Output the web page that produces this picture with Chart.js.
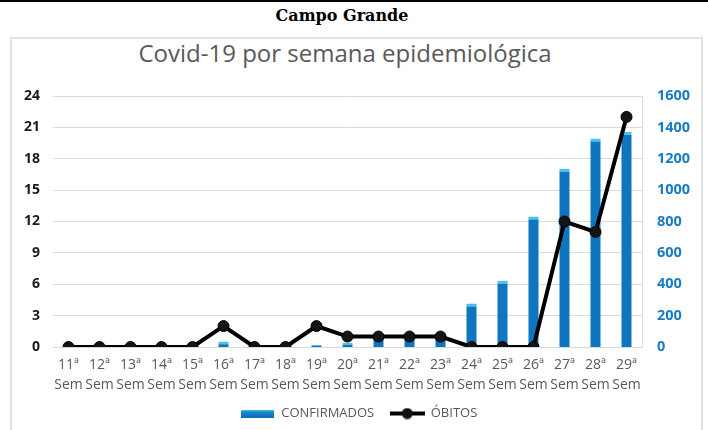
<!DOCTYPE html>
<html>
<head>
<meta charset="utf-8">
<script src="https://cdn.jsdelivr.net/npm/chart.js@4"></script>
<style>
  html, body { margin: 0; padding: 0; background: #fff; }
  body { width: 708px; height: 430px; position: relative; overflow: hidden; border-top: 2px solid #000; box-sizing: border-box; }
  .page-title { position: absolute; top: 4px; left: 0; width: 684px; text-align: center;
    font: bold 16px "DejaVu Serif", serif; color: #000; }
  .frame { position: absolute; left: 10px; top: 35px; width: 689px; height: 420px; border: 2px solid #e3e3e3; }
  .chart-title { position: absolute; top: 34px; left: 0; width: 690px; text-align: center;
    font: 24px "Open Sans", sans-serif; color: #595959; }
  #chart { position: absolute; left: 0; top: -2px; }
</style>
</head>
<body>
<div class="page-title">Campo Grande</div>
<div class="frame"></div>
<div class="chart-title">Covid-19 por semana epidemiológica</div>
<canvas id="chart" width="708" height="430"></canvas>
<script>
const semanas = ['11ª', '12ª', '13ª', '14ª', '15ª', '16ª', '17ª', '18ª', '19ª', '20ª',
  '21ª', '22ª', '23ª', '24ª', '25ª', '26ª', '27ª', '28ª', '29ª'];
const confirmados = [0, 0, 0, 0, 0, 35, 0, 0, 15, 25, 80, 90, 85, 277, 422, 832, 1137, 1329, 1371];
const obitos = [0, 0, 0, 0, 0, 2, 0, 0, 2, 1, 1, 1, 1, 0, 0, 0, 12, 11, 22];
const ticksObitos = [0, 3, 6, 9, 12, 15, 18, 21, 24];
const ticksConfirmados = [0, 200, 400, 600, 800, 1000, 1200, 1400, 1600];

const BLUE = '#0d76bf';
const CAP = '#45c3f0';

// small icons for the legend
function barIcon() {
  const c = document.createElement('canvas');
  c.width = 33; c.height = 8;
  const g = c.getContext('2d');
  const grad = g.createLinearGradient(0, 0, 0, 8);
  grad.addColorStop(0, '#4cc6f2');
  grad.addColorStop(0.35, '#1a86cc');
  grad.addColorStop(1, '#0b6fb5');
  g.fillStyle = grad;
  g.fillRect(0, 0, 33, 8);
  return c;
}

function lineIcon() {
  const c = document.createElement('canvas');
  c.width = 35; c.height = 12;
  const g = c.getContext('2d');
  g.strokeStyle = '#000';
  g.lineWidth = 4;
  g.beginPath(); g.moveTo(0, 6); g.lineTo(35, 6); g.stroke();
  g.fillStyle = '#111';
  g.beginPath(); g.arc(17.5, 6, 5.5, 0, Math.PI * 2); g.fill();
  return c;
}

const icons = [barIcon(), lineIcon()];

const ctx = document.getElementById('chart').getContext('2d');
const chart = new Chart(ctx, {
  data: {
    labels: semanas.map(s => [s, 'Sem']),
    datasets: [{
      type: 'bar',
      label: 'CONFIRMADOS',
      data: confirmados,
      yAxisID: 'y1',
      backgroundColor: BLUE,
      borderColor: CAP,
      borderWidth: { top: 3, left: 0, right: 0, bottom: 0 },
      borderSkipped: 'bottom',
      barPercentage: 0.42,
      categoryPercentage: 0.8,
      order: 2
    }, {
      type: 'line',
      label: 'ÓBITOS',
      data: obitos,
      yAxisID: 'y',
      borderColor: '#000',
      borderWidth: 4,
      pointRadius: 5.5,
      pointBackgroundColor: '#141414',
      pointBorderColor: '#000',
      pointBorderWidth: 1,
      tension: 0,
      order: 1
    }]
  },
  options: {
    responsive: false,
    animation: false,
    layout: { padding: { top: 96, left: 10, right: 0, bottom: 0 } },
    plugins: {
      title: { display: false },
      tooltip: { enabled: false },
      legend: {
        position: 'bottom',
        labels: {
          usePointStyle: true,
          pointStyleWidth: 34,
          padding: 16,
          color: '#595959',
          font: { family: 'Open Sans', size: 13 },
          generateLabels: chart => chart.data.datasets.map((ds, i) => ({
            text: ds.label,
            pointStyle: icons[i],
            fillStyle: 'transparent',
            strokeStyle: 'transparent',
            lineWidth: 0,
            hidden: false,
            datasetIndex: i,
            fontColor: '#595959'
          }))
        }
      }
    },
    scales: {
      x: {
        grid: { display: false },
        border: { display: true, color: '#d9d9d9' },
        ticks: {
          autoSkip: false,
          maxRotation: 0,
          padding: 0,
          color: '#595959',
          font: { family: 'Open Sans', size: 14, lineHeight: 1.45 }
        },
        afterFit: s => { s.height = 44; }
      },
      y: {
        position: 'left',
        min: 0,
        max: 24,
        afterBuildTicks: s => { s.ticks = ticksObitos.map(v => ({ value: v })); },
        grid: { color: '#dcdcdc', drawTicks: false },
        border: { display: false },
        ticks: {
          padding: 13,
          color: '#1a1a1a',
          font: { family: 'Open Sans', size: 14, weight: 'bold' }
        },
        afterFit: s => { s.width = 43; }
      },
      y1: {
        position: 'right',
        min: 0,
        max: 1600,
        afterBuildTicks: s => { s.ticks = ticksConfirmados.map(v => ({ value: v })); },
        grid: { display: false, drawTicks: false },
        border: { display: true, color: '#dcdcdc' },
        ticks: {
          padding: 15,
          color: '#1a7cc3',
          font: { family: 'Open Sans', size: 14.5, weight: 'bold' },
          callback: v => String(v)
        },
        afterFit: s => { s.width = 66; }
      }
    }
  }
});
</script>
</body>
</html>
